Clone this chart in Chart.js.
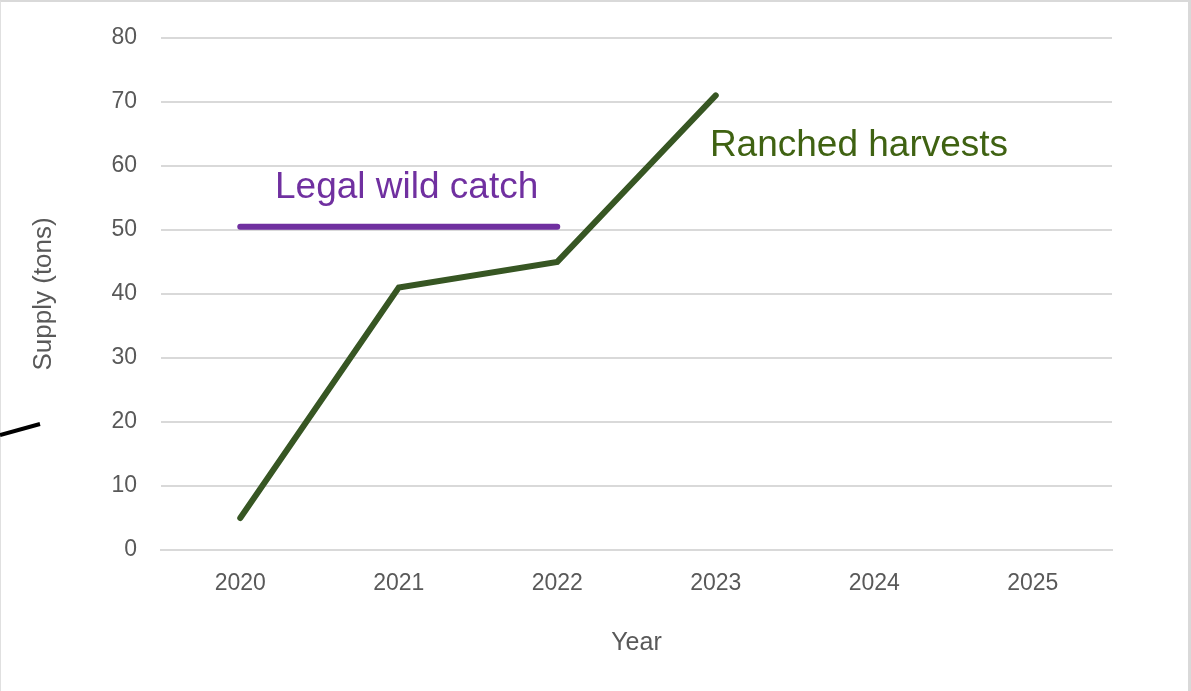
<!DOCTYPE html>
<html>
<head>
<meta charset="utf-8">
<script src="https://cdn.jsdelivr.net/npm/chart.js@4.4.1/dist/chart.umd.min.js"></script>
<style>
  html, body { margin: 0; padding: 0; background: #fff; }
  #wrap { position: relative; width: 1191px; height: 691px; box-sizing: border-box;
          border-top: 2px solid #d9d9d9; border-right: 3px solid #d9d9d9; border-left: 1px solid #e0e0e0; }
  canvas { position: absolute; left: -1px; top: -2px; }
</style>
</head>
<body>
<div id="wrap"><canvas id="supply-chart" width="1191" height="691"></canvas></div>
<script>
// Supply of the two sources, tons per year
const years = ["2020", "2021", "2022", "2023", "2024", "2025"];
const ranched = [5, 41, 45, 71, null, null];
const wildCatch = [50.5, 50.5, 50.5, null, null, null];
const yTicks = [0, 10, 20, 30, 40, 50, 60, 70, 80];

// in-chart labels (x = category index, y = value at baseline)
const noteText = ["Legal wild catch", "Ranched harvests"];
const noteX = [1.05, 2.963];
const noteY = [55.0, 61.5];
const noteAlign = ["center", "left"];
const noteColor = ["#7030a0", "#3f6212"];

const fam = "'Liberation Sans', Arial, sans-serif";
const tickFont = { family: fam, size: 23 };

const labelPlugin = {
    id: "notes",
    afterDatasetsDraw(chart) {
        const ctx = chart.ctx;
        const xs = chart.scales.x, ys = chart.scales.y;
        ctx.save();
        ctx.font = "37px " + fam;
        ctx.textBaseline = "alphabetic";
        for (let i = 0; i < noteText.length; i++) {
            ctx.fillStyle = noteColor[i];
            ctx.textAlign = noteAlign[i];
            ctx.fillText(noteText[i], xs.getPixelForValue(noteX[i]), ys.getPixelForValue(noteY[i]));
        }
        // stray pointer stroke at the left edge of the screenshot
        ctx.strokeStyle = "#000";
        ctx.lineWidth = 4;
        ctx.beginPath();
        ctx.moveTo(0, 435);
        ctx.lineTo(40, 424);
        ctx.stroke();
        ctx.restore();
    }
};

new Chart("supply-chart", {
    type: "line",
    data: {
        labels: years,
        datasets: [
            {
                label: "Ranched harvests",
                data: ranched,
                borderColor: "#375623",
                borderWidth: 6,
                borderCapStyle: "round",
                pointRadius: 0,
                tension: 0
            },
            {
                label: "Legal wild catch",
                data: wildCatch,
                borderColor: "#7030a0",
                borderWidth: 6,
                borderCapStyle: "round",
                pointRadius: 0,
                tension: 0
            }
        ]
    },
    options: {
        responsive: false,
        animation: false,
        layout: { autoPadding: false, padding: { top: 35, right: 79, left: 0, bottom: 0 } },
        plugins: { legend: { display: false }, tooltip: { enabled: false } },
        scales: {
            x: {
                offset: true,
                grid: { display: false, drawTicks: false },
                border: { color: "#d9d9d9", width: 2 },
                ticks: { color: "#595959", font: tickFont, padding: 20, maxRotation: 0 },
                title: { display: true, text: "Year", color: "#595959", font: { family: fam, size: 25 }, padding: { top: 0, bottom: 33 } },
                afterFit(scale) { scale.height = 141; }
            },
            y: {
                min: 0,
                max: 80,
                afterBuildTicks(scale) { scale.ticks = yTicks.map(v => ({ value: v })); },
                grid: { color: "#d9d9d9", lineWidth: 2, drawTicks: false },
                border: { display: false },
                ticks: { color: "#595959", font: tickFont, padding: 24 },
                title: { display: true, text: "Supply (tons)", color: "#595959", font: { family: fam, size: 26 }, padding: { top: 28, bottom: 0 } },
                afterFit(scale) { scale.width = 161; }
            }
        }
    },
    plugins: [labelPlugin]
});
</script>
</body>
</html>
